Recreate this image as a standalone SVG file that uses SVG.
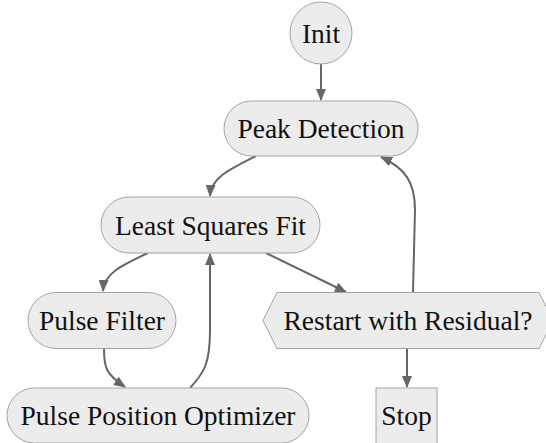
<svg xmlns="http://www.w3.org/2000/svg" width="546" height="443" viewBox="0 0 546 443">
  <style>
    .node { fill: #ececec; stroke: #a3a3a3; stroke-width: 1; }
    .label { font-family: 'Liberation Serif', 'Times New Roman', Times, serif; font-size: 27.5px; fill: #111; text-anchor: middle; }
    .edge { fill: none; stroke: #666; stroke-width: 2; }
  </style>
  <defs>
    <marker id="arrow" viewBox="0 0 12 10" refX="11" refY="5" markerWidth="12" markerHeight="10" markerUnits="userSpaceOnUse" orient="auto">
      <path d="M0,0 L12,5 L0,10 Z" fill="#666"/>
    </marker>
  </defs>

  <g id="connectors">
    <!-- Init to Peak Detection -->
    <path class="edge" d="M321,63 L321,100" marker-end="url(#arrow)"/>
    <!-- Peak Detection to Least Squares Fit -->
    <path class="edge" d="M256,156 C228,170 211,178 210,196" marker-end="url(#arrow)"/>
    <!-- Least Squares Fit to Pulse Filter -->
    <path class="edge" d="M148,253 C120,266 104,274 103,291" marker-end="url(#arrow)"/>
    <!-- Least Squares Fit to Restart -->
    <path class="edge" d="M266,253 L346,292" marker-end="url(#arrow)"/>
    <!-- Pulse Filter to Pulse Position Optimizer -->
    <path class="edge" d="M104,349 C104,368 106,374 125,387" marker-end="url(#arrow)"/>
    <!-- Pulse Position Optimizer back to Least Squares Fit -->
    <path class="edge" d="M190,388 C205,372 210,362 210,330 L210,254" marker-end="url(#arrow)"/>
    <!-- Restart back to Peak Detection -->
    <path class="edge" d="M413,292 L415,210 C415,182 405,168 381,157" marker-end="url(#arrow)"/>
    <!-- Restart to Stop -->
    <path class="edge" d="M407,349 L407,387" marker-end="url(#arrow)"/>
  </g>

  <g id="init">
    <circle class="node" cx="321" cy="33" r="31"/>
    <text class="label" x="321" y="42.5">Init</text>
  </g>

  <g id="peak-detection">
    <rect class="node" x="224" y="101" width="194" height="55" rx="27.5"/>
    <text class="label" x="321" y="138">Peak Detection</text>
  </g>

  <g id="least-squares-fit">
    <rect class="node" x="101" y="197" width="219" height="56" rx="28"/>
    <text class="label" x="210.5" y="234.5">Least Squares Fit</text>
  </g>

  <g id="pulse-filter">
    <rect class="node" x="28" y="292.5" width="148" height="56" rx="28"/>
    <text class="label" x="102" y="330">Pulse Filter</text>
  </g>

  <g id="restart">
    <polygon class="node" points="263,320.5 277,292.5 539,292.5 553,320.5 539,348.5 277,348.5"/>
    <text class="label" x="408" y="330">Restart with Residual?</text>
  </g>

  <g id="pulse-position-optimizer">
    <rect class="node" x="7" y="388" width="302" height="55" rx="27.5"/>
    <text class="label" x="158" y="425">Pulse Position Optimizer</text>
  </g>

  <g id="stop">
    <rect class="node" x="376" y="388" width="61" height="56"/>
    <text class="label" x="406.5" y="425">Stop</text>
  </g>
</svg>
